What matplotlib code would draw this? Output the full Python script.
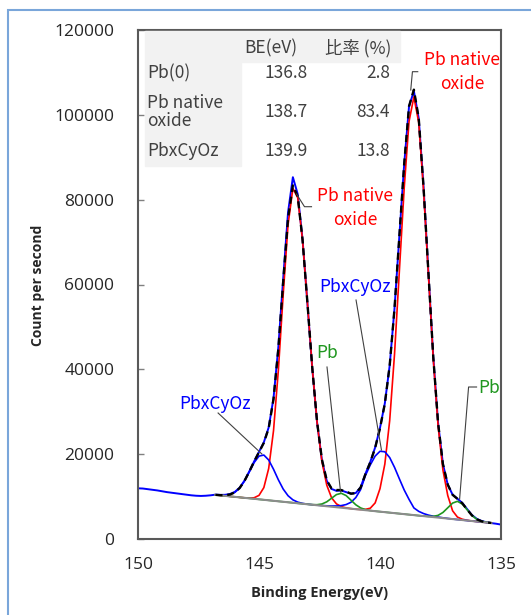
import numpy as np
import matplotlib
matplotlib.use("Agg")
from matplotlib import pyplot as plt
from matplotlib.patches import Rectangle

#####################################################################
# Data (Pb 4f region)

# fit region: binding energy (eV)
be_fit = [146.8, 146.6, 146.4, 146.2, 146.0, 145.8, 145.6, 145.4, 145.2, 145.0,
          144.8, 144.6, 144.4, 144.2, 144.0, 143.8, 143.6, 143.4, 143.2, 143.0,
          142.8, 142.6, 142.4, 142.2, 142.0, 141.8, 141.6, 141.4, 141.2, 141.0,
          140.8, 140.6, 140.4, 140.2, 140.0, 139.8, 139.6, 139.4, 139.2, 139.0,
          138.8, 138.6, 138.4, 138.2, 138.0, 137.8, 137.6, 137.4, 137.2, 137.0,
          136.8, 136.6, 136.4, 136.2, 136.0, 135.8, 135.6, 135.4]

# linear background (counts)
background = [10400, 10284, 10167, 10051, 9935, 9818, 9702, 9586, 9470, 9353,
              9237, 9121, 9004, 8888, 8772, 8655, 8539, 8423, 8307, 8190,
              8074, 7958, 7841, 7725, 7609, 7492, 7376, 7260, 7144, 7027,
              6911, 6795, 6678, 6562, 6446, 6330, 6213, 6097, 5981, 5864,
              5748, 5632, 5515, 5399, 5283, 5166, 5050, 4934, 4818, 4701,
              4585, 4469, 4352, 4236, 4120, 4003, 3887, 3771]

# components, counts above background
oxide = [0, 0, 0, 0, 0, 0, 10, 60, 255, 930,
         2880, 7495, 16540, 30920, 48870, 65410, 74130, 72040, 62130, 47530,
         32330, 19520, 10430, 4970, 2100, 790, 260, 75, 20, 0,
         60, 195, 585, 1950, 5430, 11340, 21690, 37470, 57180, 76900,
         92690, 98600, 92690, 76900, 57180, 37470, 21690, 11340, 5430, 1950,
         585, 195, 60, 0, 0, 0, 0, 0]

carbide = [14, 51, 160, 441, 1055, 2194, 3975, 6254, 8565, 10187,
           10558, 9508, 7441, 5067, 3000, 1548, 693, 270, 91, 28,
           7, 25, 55, 100, 170, 290, 500, 860, 1510, 2740,
           4750, 8210, 10800, 12990, 14240, 14240, 12990, 10800, 8210, 5690,
           3590, 1700, 1000, 600, 350, 200, 120, 70, 30, 0,
           0, 0, 0, 0, 0, 0, 0, 0]

metal = [0, 0, 0, 0, 0, 0, 0, 0, 0, 0,
         0, 0, 0, 0, 0, 0, 0, 0, 0, 0,
         30, 125, 415, 1040, 2010, 2980, 3400, 2980, 2010, 1040,
         415, 125, 30, 0, 0, 0, 0, 0, 0, 0,
         0, 0, 0, 7, 38, 160, 525, 1320, 2540, 3770,
         4300, 3770, 2540, 1320, 525, 160, 38, 7]

# measured spectrum
be_raw = [150.0, 149.8, 149.6, 149.4, 149.2, 149.0, 148.8, 148.6, 148.4, 148.2,
          148.0, 147.8, 147.6, 147.4, 147.2, 147.0] + be_fit + [135.2, 135.0]
raw = [11950, 11900, 11750, 11600, 11450, 11250, 11050, 10900, 10750, 10600,
       10450, 10300, 10200, 10150, 10200, 10300,
       10450, 10400, 10420, 10600, 11100, 12100, 13750, 15950, 18300, 20550,
       22800, 26300, 33200, 45300, 61400, 77000, 85300, 81300, 70600, 55600,
       40300, 27500, 18600, 13700, 11800, 11350, 11450, 11050, 10700, 10850,
       12200, 15400, 18200, 21600, 26200, 32000, 40900, 54400, 71400, 88400,
       102000, 105600, 99200, 83000, 62900, 43000, 27400, 17700, 12800, 10450,
       9500, 8500, 7050, 5650, 4750, 4250, 3950, 3750,
       3600, 3400]

# table
table_rows = ["Pb(0)", "Pb native\noxide", "PbxCyOz"]
table_be = ["136.8", "138.7", "139.9"]
table_ratio = ["2.8", "83.4", "13.8"]

#####################################################################
W, H = 531, 615
plt.rcParams['font.family'] = ['Open Sans', 'Noto Sans CJK JP', 'DejaVu Sans']
cjk = ['Noto Sans CJK JP', 'DejaVu Sans']

RED = '#FF0000'
BLUE = '#0000FF'
GREEN = '#1E961E'
TXT = '#404040'


def fx(px):
    return px / W


def fy(py):
    return 1 - py / H


fig = plt.figure(figsize=(W / 100, H / 100), dpi=100)
ax = fig.add_axes([fx(138), fy(539), fx(501) - fx(138), fy(30) - fy(539)])

bg = np.array(background)
oxide = np.array(oxide)
carbide = np.array(carbide)
metal = np.array(metal)
envelope = bg + oxide + carbide + metal

ax.plot(be_raw, raw, color=BLUE, lw=1.4, zorder=2)
ax.plot(be_fit, bg + oxide, color=RED, lw=1.2, zorder=3)
ax.plot(be_fit, bg + carbide, color=BLUE, lw=1.2, zorder=3)
ax.plot(be_fit, bg + metal, color=GREEN, lw=1.2, zorder=3)
ax.plot(be_fit, bg, color='#8C8C8C', lw=1.5, zorder=4)
ax.plot(be_fit, envelope, color='black', lw=1.7, ls=(0, (3, 2)), zorder=5)

ax.set_xlim(150, 135)
ax.set_ylim(0, 120000)
ax.set_xticks([150, 145, 140, 135])
ax.set_yticks(np.arange(0, 120001, 20000))
ax.tick_params(axis='y', direction='in', length=4, width=1, color='#808080',
               pad=17, labelsize=12.5, labelcolor='#262626')
ax.tick_params(axis='x', length=0, pad=13, labelsize=12.5, labelcolor='#262626')
for s in ax.spines.values():
    s.set_color('#595959')
    s.set_linewidth(1.5)

fig.text(fx(320), fy(593), "Binding Energy(eV)", ha='center', va='center',
         fontsize=10.5, fontweight='bold', color='#262626')
fig.text(fx(38), fy(285), "Count per second", ha='center', va='center',
         rotation=90, fontsize=10, fontweight='bold', color='#262626')

# leader lines (data coords)
leaders = [
    ([138.73, 138.66, 138.44], [105850, 110170, 110170]),
    ([143.45, 143.12, 142.83], [81335, 78340, 78340]),
    ([140.99, 139.94], [56345, 20980]),
    ([142.19, 141.63], [40550, 11080]),
    ([146.69, 144.88], [29705, 20040]),
    ([136.01, 136.34, 136.71], [35835, 35835, 9430]),
]
for xs, ys in leaders:
    ax.plot(xs, ys, color='#404040', lw=0.8, zorder=6)

labels = [
    ("Pb native\noxide", 462, 72, RED),
    ("Pb native\noxide", 355, 208, RED),
    ("PbxCyOz", 355, 287, BLUE),
    ("Pb", 327, 353, GREEN),
    ("PbxCyOz", 215, 404, BLUE),
    ("Pb", 489, 388, GREEN),
]
for txt, px, py, c in labels:
    fig.text(fx(px), fy(py), txt, ha='center', va='center', color=c,
             fontsize=12.5, family=cjk, linespacing=1.4)

# table with grey cells
fig.patches.append(Rectangle((fx(145), fy(62)), fx(400) - fx(145), fy(31) - fy(62),
                             transform=fig.transFigure, color='#F2F2F2', zorder=1))
fig.patches.append(Rectangle((fx(145), fy(166)), fx(241) - fx(145), fy(62) - fy(166),
                             transform=fig.transFigure, color='#F2F2F2', zorder=1))
fig.text(fx(297), fy(48), "BE(eV)", ha='right', va='center', color=TXT,
         fontsize=12.5, family=cjk)
fig.text(fx(391), fy(48), "比率 (%)", ha='right', va='center', color=TXT,
         fontsize=12.5, family=cjk)
row_y = [73, 112, 151]
for name, be, ratio, py in zip(table_rows, table_be, table_ratio, row_y):
    fig.text(fx(147), fy(py), name, ha='left', va='center', color=TXT,
             fontsize=12.5, family=cjk, linespacing=1.0)
    fig.text(fx(308), fy(py), be, ha='right', va='center', color=TXT,
             fontsize=12.5, family=cjk)
    fig.text(fx(390), fy(py), ratio, ha='right', va='center', color=TXT,
             fontsize=12.5, family=cjk)

# chart frame
fig.patches.append(Rectangle((fx(8), fy(630)), fx(545) - fx(8), fy(10) - fy(630),
                             transform=fig.transFigure, fill=False,
                             edgecolor='#7AA6DA', lw=1.5, zorder=0))

fig.savefig("out.png", dpi=100)
